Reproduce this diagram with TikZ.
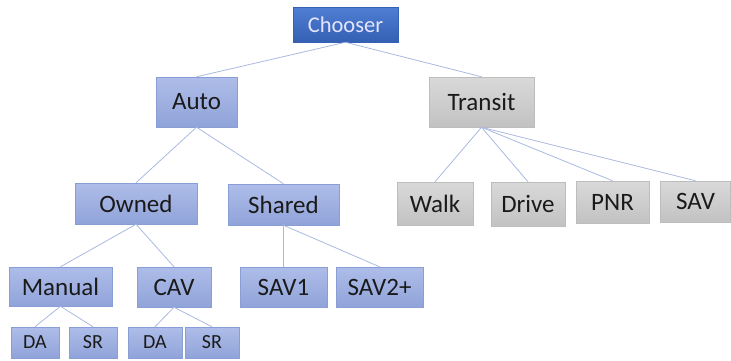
\documentclass[tikz,border=0pt]{standalone}
\usepackage{fontspec}
\setmainfont{Carlito}
\definecolor{bluetop}{HTML}{AEBDE9}
\definecolor{bluebot}{HTML}{90A3D9}
\definecolor{blueedge}{HTML}{8A9ED6}
\definecolor{darktop}{HTML}{4F7ED2}
\definecolor{darkbot}{HTML}{3560B4}
\definecolor{graytop}{HTML}{D9D9D9}
\definecolor{graybot}{HTML}{C2C2C2}
\definecolor{grayedge}{HTML}{BDBDBD}
\definecolor{linkc}{HTML}{A9B9E2}
\definecolor{txt}{HTML}{1A1A1A}
\tikzset{
  box/.style={draw=blueedge, line width=0.5pt, top color=bluetop, bottom color=bluebot, text=txt, inner sep=0pt, font=\fontsize{25}{28}\selectfont},
  rootbox/.style={draw=darkbot, line width=0.5pt, top color=darktop, bottom color=darkbot, text=white!90!blue, inner sep=0pt, font=\fontsize{22.5}{26}\selectfont},
  graybox/.style={draw=grayedge, line width=0.5pt, top color=graytop, bottom color=graybot, text=txt, inner sep=0pt, font=\fontsize{25}{28}\selectfont},
  smallbox/.style={box, font=\fontsize{20}{22}\selectfont},
  link/.style={draw=linkc, line width=0.8pt}
}
\begin{document}
\begin{tikzpicture}[x=1pt,y=-1pt]
\useasboundingbox (0,0) rectangle (731,360);
\node[rootbox, minimum width=105pt, minimum height=35pt] (chooser) at (345.5,24.5) {Chooser};
\node[box, minimum width=81pt, minimum height=50pt] (auto) at (196.5,102) {Auto};
\node[graybox, minimum width=105pt, minimum height=50pt] (transit) at (481.5,102) {Transit};
\node[box, minimum width=122pt, minimum height=41pt] (owned) at (136,203.5) {Owned};
\node[box, minimum width=111pt, minimum height=41pt] (shared) at (283.5,204.5) {Shared};
\node[graybox, minimum width=76pt, minimum height=43pt] (walk) at (435,203.5) {Walk};
\node[graybox, minimum width=74pt, minimum height=44pt] (drive) at (528,204) {Drive};
\node[graybox, minimum width=73pt, minimum height=42pt] (pnr) at (612.5,202) {PNR};
\node[graybox, minimum width=70pt, minimum height=41pt] (sav) at (695.5,201.5) {SAV};
\node[box, minimum width=103pt, minimum height=39pt] (manual) at (60.5,286.5) {Manual};
\node[box, minimum width=74pt, minimum height=40pt] (cav) at (174,287) {CAV};
\node[box, minimum width=87pt, minimum height=40pt] (sav1) at (283.5,287) {SAV1};
\node[box, minimum width=87pt, minimum height=40pt] (sav2) at (379.5,287) {SAV2+};
\node[smallbox, minimum width=48pt, minimum height=31pt] (da1) at (35,342.5) {DA};
\node[smallbox, minimum width=48pt, minimum height=31pt] (sr1) at (93,342.5) {SR};
\node[smallbox, minimum width=54pt, minimum height=31pt] (da2) at (155,342.5) {DA};
\node[smallbox, minimum width=54pt, minimum height=31pt] (sr2) at (212,342.5) {SR};
\draw[link] (chooser.south) -- (auto.north);
\draw[link] (chooser.south) -- (transit.north);
\draw[link] (auto.south) -- (owned.north);
\draw[link] (auto.south) -- (shared.north);
\draw[link] (owned.south) -- (manual.north);
\draw[link] (owned.south) -- (cav.north);
\draw[link] (shared.south) -- (sav1.north);
\draw[link] (shared.south) -- (sav2.north);
\draw[link] (manual.south) -- (da1.north);
\draw[link] (manual.south) -- (sr1.north);
\draw[link] (cav.south) -- (da2.north);
\draw[link] (cav.south) -- (sr2.north);
\draw[link] (transit.south) -- (walk.north);
\draw[link] (transit.south) -- (drive.north);
\draw[link] (transit.south) -- (pnr.north);
\draw[link] (transit.south) -- (sav.north);
\end{tikzpicture}
\end{document}
